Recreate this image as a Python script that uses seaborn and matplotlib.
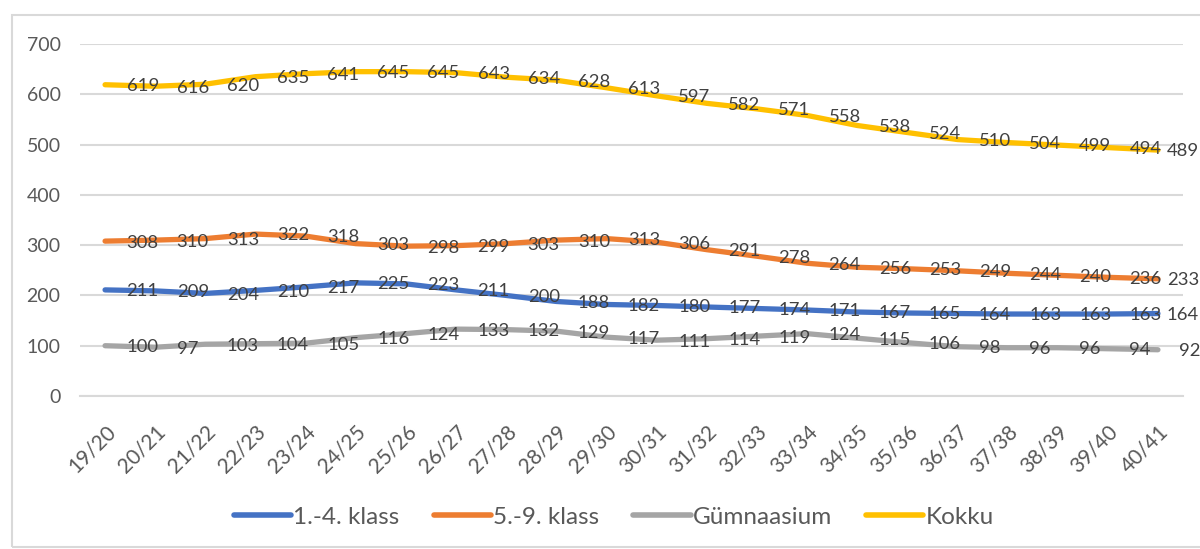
import pandas as pd
import numpy as np
import matplotlib
matplotlib.use("Agg")
import matplotlib.pyplot as plt
import seaborn as sns
from matplotlib.patches import Rectangle

# DATA
years = ["19/20", "20/21", "21/22", "22/23", "23/24", "24/25", "25/26", "26/27",
         "27/28", "28/29", "29/30", "30/31", "31/32", "32/33", "33/34", "34/35",
         "35/36", "36/37", "37/38", "38/39", "39/40", "40/41"]
klass_1_4 = [211, 209, 204, 210, 217, 225, 223, 211, 200, 188, 182, 180, 177, 174,
             171, 167, 165, 164, 163, 163, 163, 164]
klass_5_9 = [308, 310, 313, 322, 318, 303, 298, 299, 303, 310, 313, 306, 291, 278,
             264, 256, 253, 249, 244, 240, 236, 233]
gymnaasium = [100, 97, 103, 104, 105, 116, 124, 133, 132, 129, 117, 111, 114, 119,
              124, 115, 106, 98, 96, 96, 94, 92]
kokku = [619, 616, 620, 635, 641, 645, 645, 643, 634, 628, 613, 597, 582, 571,
         558, 538, 524, 510, 504, 499, 494, 489]

series_names = ["1.-4. klass", "5.-9. klass", "Gümnaasium", "Kokku"]
series_values = [klass_1_4, klass_5_9, gymnaasium, kokku]
colors = ["#4472C4", "#ED7D31", "#A5A5A5", "#FFC000"]

rows = []
for name, vals in zip(series_names, series_values):
    for i, (yr, v) in enumerate(zip(years, vals)):
        rows.append({"idx": i, "year": yr, "series": name, "value": v})
df = pd.DataFrame(rows)

sns.set_theme(style="white")
plt.rcParams["font.family"] = ["Lato", "DejaVu Sans"]

fig = plt.figure(figsize=(12, 5.49), dpi=100)
ax = fig.add_axes([80 / 1200, 1 - 396 / 549, (1183 - 80) / 1200, (396 - 44) / 549])

# chart border
fig.patches.append(Rectangle((12 / 1200, 0.004), 1.2, 1 - 15 / 549 - 0.004,
                             transform=fig.transFigure, fill=False,
                             edgecolor="#D9D9D9", linewidth=1.5, zorder=0))

sns.lineplot(data=df, x="idx", y="value", hue="series", hue_order=series_names,
             palette=colors, linewidth=3.8, ax=ax, legend=True,
             solid_capstyle="round", solid_joinstyle="round")

# data labels to the right of each point
last = len(years) - 1
for name, vals in zip(series_names, series_values):
    for i, v in enumerate(vals):
        txt = str(v)
        if i == last and len(txt) == 3:
            # pushed back inside the chart edge
            ax.annotate(txt, (i, v), xytext=(29.5, -1), textcoords="offset points",
                        ha="right", va="center", fontsize=13.3, color="#404040",
                        zorder=5, annotation_clip=False)
        else:
            ax.annotate(txt, (i, v), xytext=(15.5, -1), textcoords="offset points",
                        ha="left", va="center", fontsize=13.3, color="#404040",
                        zorder=5, annotation_clip=False)

ax.set_xlim(-0.5, len(years) - 0.5)
ax.set_ylim(0, 700)
ax.set_yticks(range(0, 701, 100))
ax.set_xticks(range(len(years)))
ax.set_xticklabels(years, rotation=45, ha="right", rotation_mode="anchor")
ax.tick_params(axis="x", labelsize=15, colors="#595959", pad=18, length=0)
ax.tick_params(axis="y", labelsize=14, colors="#595959", pad=14, length=0)
ax.set_xlabel("")
ax.set_ylabel("")
ax.yaxis.grid(True, color="#D9D9D9", linewidth=1.5)
ax.set_axisbelow(True)
for s in ["top", "right", "left"]:
    ax.spines[s].set_visible(False)
ax.spines["bottom"].set_color("#D9D9D9")
ax.spines["bottom"].set_linewidth(1.5)

handles, labels = ax.get_legend_handles_labels()
for h in handles:
    h.set_linewidth(4)
ax.legend(handles, labels, loc="center", bbox_to_anchor=(614 / 1200, 1 - 517 / 549),
          bbox_transform=fig.transFigure, ncol=4, frameon=False, fontsize=17.5,
          handlelength=2.35, handletextpad=0.1, columnspacing=1.4,
          labelcolor="#595959")

plt.savefig("out.png", dpi=100)
